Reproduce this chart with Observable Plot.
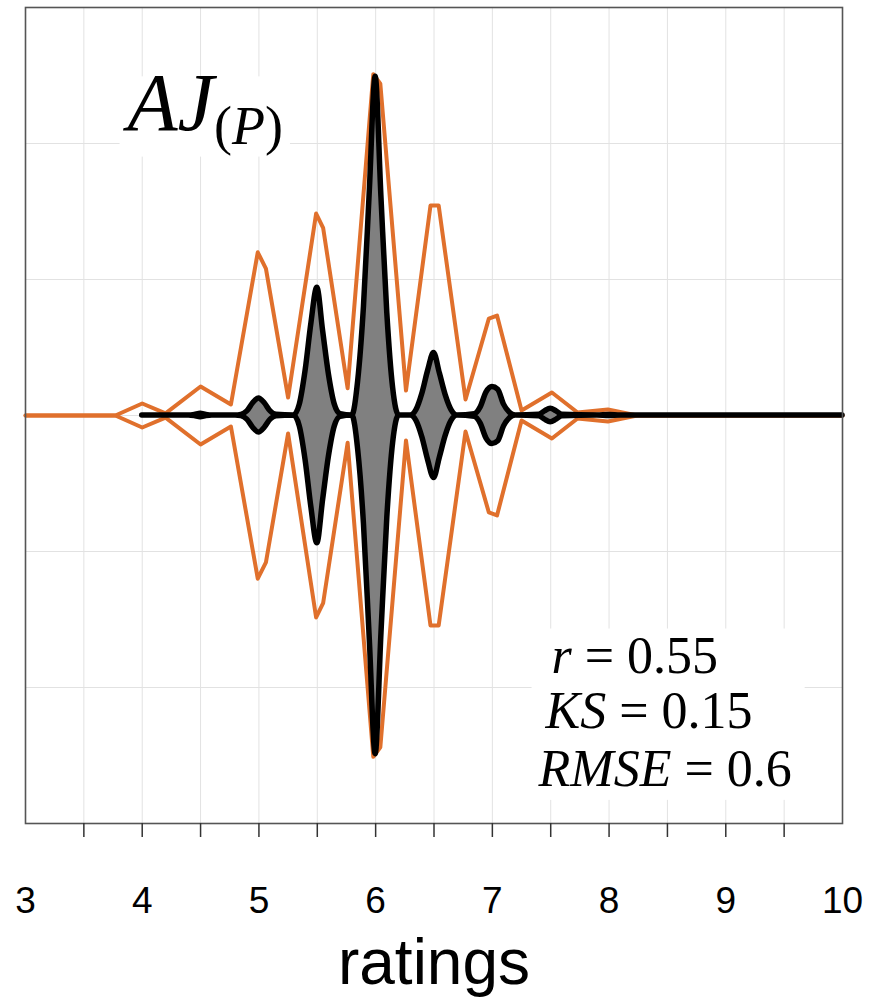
<!DOCTYPE html>
<html>
<head>
<meta charset="utf-8">
<script src="https://cdn.jsdelivr.net/npm/d3@7"></script>
<script src="https://cdn.jsdelivr.net/npm/@observablehq/plot@0.6"></script>
<style>
  html, body { margin: 0; padding: 0; background: #fff; }
  #chart svg { display: block; }
</style>
</head>
<body>
<div id="chart"></div>
<script>
// ---------- data ----------
// predicted distribution (orange outline): rating and half-width density
const orangeX = [3.0, 3.77, 4.0, 4.2, 4.5, 4.76, 4.99, 5.06, 5.25, 5.49, 5.55, 5.76, 5.98, 6.04, 6.26, 6.47, 6.54, 6.77, 6.97, 7.04, 7.25, 7.51, 7.73, 7.99, 8.24, 10.0];
const orangeD = [0, 0, 0.088, 0.015, 0.213, 0.081, 1.2, 1.08, 0.132, 1.485, 1.38, 0.2, 2.51, 2.44, 0.184, 1.544, 1.544, 0.118, 0.713, 0.735, 0.037, 0.169, 0.022, 0.044, 0, 0];

// observed distribution (grey violin): rating and half-width density
const blackX = [4.0, 4.4, 4.45, 4.5, 4.55, 4.6, 4.8, 4.85, 4.9, 4.95, 5.0, 5.05, 5.1, 5.15, 5.3, 5.35, 5.4, 5.45, 5.5, 5.55, 5.6, 5.65, 5.7, 5.8, 5.85, 5.9, 5.95, 6.0, 6.05, 6.1, 6.15, 6.2, 6.3, 6.35, 6.4, 6.45, 6.5, 6.55, 6.6, 6.65, 6.7, 6.85, 6.9, 6.95, 7.0, 7.05, 7.1, 7.15, 7.2, 7.4, 7.45, 7.5, 7.55, 7.6, 7.9, 8.0, 8.1, 10.0];
const blackD = [0, 0, 0.004, 0.012, 0.004, 0, 0, 0.005, 0.03, 0.09, 0.125, 0.09, 0.03, 0.005, 0, 0.08, 0.33, 0.68, 0.94, 0.62, 0.3, 0.08, 0.01, 0, 0.25, 0.8, 1.65, 2.49, 1.6, 0.75, 0.2, 0, 0, 0.04, 0.16, 0.33, 0.46, 0.31, 0.15, 0.04, 0, 0.01, 0.06, 0.17, 0.21, 0.19, 0.08, 0.02, 0, 0.005, 0.03, 0.05, 0.03, 0.005, 0, 0.004, 0, 0];

const tickMarks = [3.5, 4, 4.5, 5, 5.5, 6, 6.5, 7, 7.5, 8, 8.5, 9, 9.5];
const tickLabels = [3, 4, 5, 6, 7, 8, 9, 10];
const gridYTicks = [-2, -1, 0, 1, 2];
const statNames = ["r", "KS", "RMSE"];
const statValues = ["0.55", "0.15", "0.6"];
const titleMain = "AJ";
const titleSub = "P";
const axisTitle = "ratings";

// ---------- tables ----------
const orange = orangeX.map((x, i) => ({x, d: orangeD[i]}));
const black = blackX.map((x, i) => ({x, d: blackD[i]}));
const stats = statNames.map((n, i) => ({name: n, value: statValues[i], i}));

// ---------- layout (annotation placement, in data units) ----------
const statPos = [[7.507, -1.89], [7.456, -2.301], [7.396, -2.721]];
const ORANGE = "#E0702C";
const SANS = "Liberation Sans, Arial, Helvetica, sans-serif";
const SERIF = "Liberation Serif, Times New Roman, serif";

const chart = Plot.plot({
  width: 876,
  height: 999,
  marginLeft: 25,
  marginRight: 34,
  marginTop: 7,
  marginBottom: 176,
  x: {domain: [3, 10], axis: null},
  y: {domain: [-3, 3], axis: null},
  marks: [
    Plot.gridX(tickMarks, {stroke: "#e2e2e2", strokeOpacity: 1, strokeWidth: 1}),
    Plot.gridY(gridYTicks, {stroke: "#e2e2e2", strokeOpacity: 1, strokeWidth: 1}),
    // white boxes behind the annotations
    Plot.rect([0], {x1: () => 3.81, x2: () => 5.27, y1: () => 1.9, y2: () => 2.49, fill: "white"}),
    Plot.rect([0], {x1: () => 7.34, x2: () => 9.68, y1: () => -2.83, y2: () => -1.57, fill: "white"}),
    // predicted distribution outline
    Plot.line(orange, {x: "x", y: "d", stroke: ORANGE, strokeWidth: 4, strokeLinejoin: "round"}),
    Plot.line(orange, {x: "x", y: d => -d.d, stroke: ORANGE, strokeWidth: 4, strokeLinejoin: "round"}),
    // observed violin
    Plot.areaY(black, {x: "x", y1: d => -d.d, y2: "d", fill: "#808080", stroke: "black", strokeWidth: 5.5, strokeLinejoin: "round", strokeLinecap: "round", curve: "monotone-x"}),
    Plot.frame({stroke: "#555", strokeWidth: 1.6}),
    // ticks below the frame
    Plot.axisX(tickMarks, {tickSize: 14, tickFormat: () => "", label: null, stroke: "#333", strokeWidth: 1.5}),
    // tick labels
    Plot.text(tickLabels, {x: d => d, frameAnchor: "bottom", dy: 89, lineAnchor: "bottom", text: d => String(d), fontSize: 37, fontFamily: SANS, fill: "black"}),
    // axis title
    Plot.text([axisTitle], {frameAnchor: "bottom", dy: 160, lineAnchor: "bottom", text: d => d, fontSize: 64, fontFamily: SANS, fill: "black"}),
    // panel title
    Plot.text([titleMain], {x: () => 3.874, y: () => 2.096, text: d => d, textAnchor: "start", lineAnchor: "bottom", fontSize: 82, fontFamily: SERIF, fill: "black"}),
    // statistics
    Plot.text(stats, {x: d => statPos[d.i][0], y: d => statPos[d.i][1], text: d => d.name + " = " + d.value, textAnchor: "start", lineAnchor: "bottom", fontSize: 52, fontFamily: SERIF, fill: "black"})
  ]
});

// mixed italic / upright math-style text
const NS = "http://www.w3.org/2000/svg";
function tspan(parent, txt, attrs) {
  const t = document.createElementNS(NS, "tspan");
  t.textContent = txt;
  for (const k in attrs) t.setAttribute(k, attrs[k]);
  parent.appendChild(t);
  return t;
}
const statStrings = stats.map(d => d.name + " = " + d.value);
chart.querySelectorAll("text").forEach(el => {
  const s = el.textContent;
  const i = statStrings.indexOf(s);
  if (i >= 0) {
    el.textContent = "";
    tspan(el, statNames[i], {"font-style": "italic"});
    tspan(el, " = " + statValues[i], {"font-style": "normal"});
  } else if (s === titleMain) {
    el.textContent = "";
    tspan(el, titleMain, {"font-style": "italic"});
    tspan(el, "(", {"font-size": "54", "dy": "14", "font-style": "normal"});
    tspan(el, titleSub, {"font-size": "54", "font-style": "italic"});
    tspan(el, ")", {"font-size": "54", "font-style": "normal"});
  }
});

document.getElementById("chart").appendChild(chart);
</script>
</body>
</html>
